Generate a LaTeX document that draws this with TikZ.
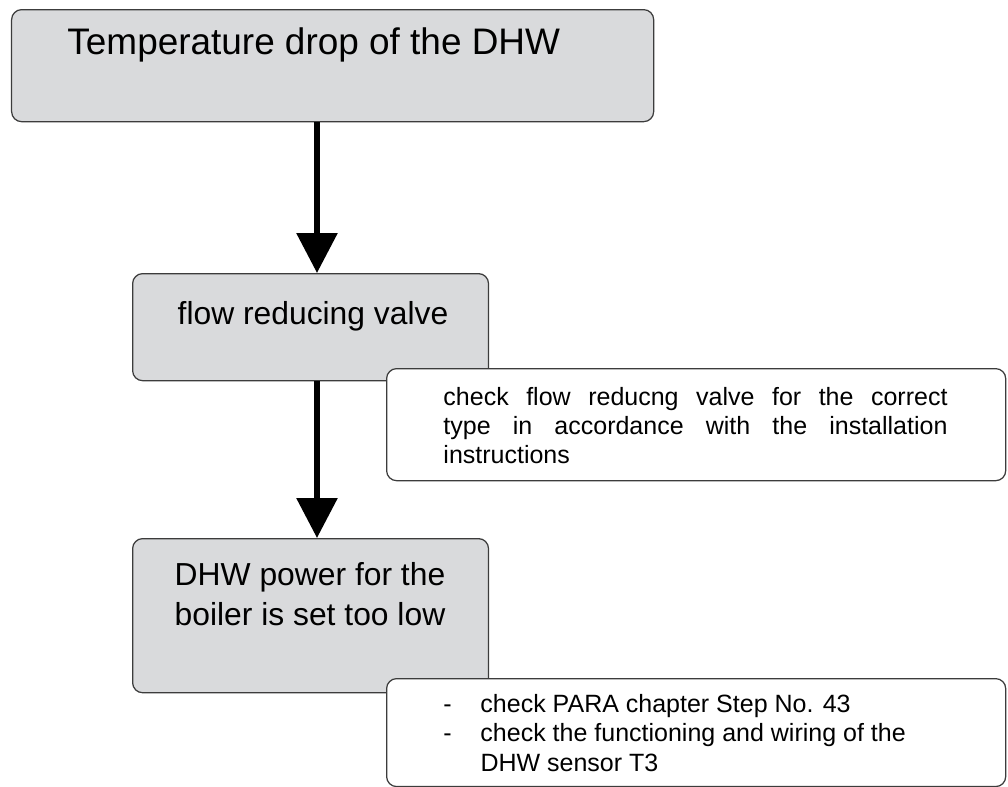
\documentclass[tikz,border=0pt]{standalone}
\usepackage{fontspec}
\setmainfont{Liberation Sans}
\usetikzlibrary{arrows.meta}

\definecolor{boxgray}{RGB}{217,218,220}
\definecolor{edgegray}{RGB}{60,60,60}

\tikzset{
  graybox/.style={draw=edgegray, line width=0.55pt, fill=boxgray,
    rounded corners=4.4pt, inner sep=0pt, anchor=north west},
  notebox/.style={draw=edgegray, line width=0.55pt, fill=white,
    rounded corners=4.4pt, inner sep=0pt, anchor=north west},
  boxtext/.style={inner sep=0pt, font=\fontsize{14}{17.6}\selectfont},
  notetext/.style={inner sep=0pt, font=\fontsize{11}{12.9}\selectfont},
  flowarrow/.style={line width=2.64pt, -{Triangle[length=17.6pt, width=17.6pt]}},
}

\begin{document}
\begin{tikzpicture}[x=0.44pt, y=-0.44pt]
        \useasboundingbox (0,0) rectangle (1008,787);

        % ==========================================
        % Problem: temperature drop
        % ==========================================
        \node[graybox, minimum width=282.5pt, minimum height=49.3pt] (drop) at (11,9) {};
        \node[boxtext, anchor=base west, font=\fontsize{16.25}{19}\selectfont] (droptext) at (67,54) {Temperature drop of the DHW};

        % Line of the arrows
        \coordinate (spine) at (317,0);

        % ==========================================
        % Cause 1: flow reducing valve
        % ==========================================
        \node[graybox, minimum width=156.6pt, minimum height=47.1pt] (valve) at (132,273) {};
        \node[boxtext, anchor=base] (valvetext) at (313,324) {flow reducing valve};
        \draw[flowarrow] (drop.south -| spine) -- (valve.north -| spine);

        % Hint
        \node[notebox, minimum width=272.4pt, minimum height=49.3pt] (valvenote) at (386,368) {};
        \node[notetext, text width=221.8pt, align=justify, anchor=base west] (valvehint) at (443,405)
          {check flow reducng valve for the correct\linebreak type in accordance with the installation\linebreak instructions};

        % ==========================================
        % Cause 2: DHW power
        % ==========================================
        \node[graybox, minimum width=156.6pt, minimum height=67.8pt] (power) at (132,538) {};
        \node[boxtext, align=center, anchor=base] (powertext) at (310,625) {DHW power for the\\boiler is set too low};
        \draw[flowarrow] (valve.south -| spine) -- (power.north -| spine);

        % Hints
        \node[notebox, minimum width=272.4pt, minimum height=47.5pt] (powernote) at (386,678) {};
        \node[notetext, align=left, anchor=base west] (powerhint) at (443,771)
          {\makebox[16.3pt][l]{-}check PARA chapter Step No. 43\\
           \makebox[16.3pt][l]{-}check the functioning and wiring of the\\
           \hspace*{16.3pt}DHW sensor T3};

    \end{tikzpicture}
\end{document}
